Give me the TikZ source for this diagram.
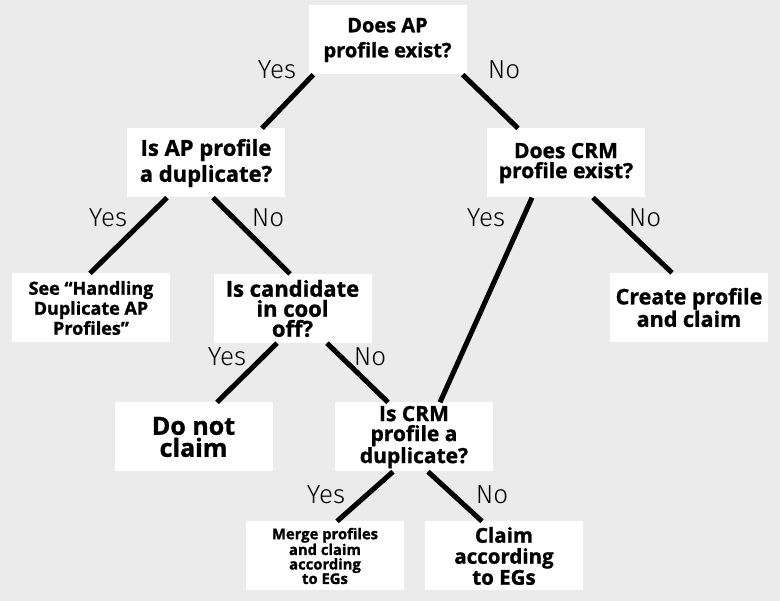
\documentclass[tikz,border=0pt]{standalone}
\usepackage{fontspec}
\setmainfont{Open Sans}[BoldFeatures={FakeBold=1.2}]
\newfontfamily\lightfont{Fira Sans Light}
\definecolor{bggray}{RGB}{235,235,235}
\newcommand{\fsz}[2]{\fontsize{#1}{#2}\selectfont}
\begin{document}
\begin{tikzpicture}[x=1pt,y=-1pt,line join=round,
  box/.style={fill=white,minimum width=158pt,minimum height=69pt,align=center,inner sep=0pt,font=\bfseries},
  branch/.style={line width=5pt},
  answer/.style={font=\lightfont\fsz{26}{26}}]
\useasboundingbox[fill=bggray] (0,0) rectangle (780,601);
% question and outcome boxes
\node[box,font=\bfseries\fsz{20}{25}] (apexist) at (387.5,40) {Does AP\\profile exist?};
\node[box,font=\bfseries\fsz{22}{26}] (apdup) at (206,163) {Is AP profile\\a duplicate?};
\node[box,font=\bfseries\fsz{21}{20}] (crmexist) at (566,163) {Does CRM\\profile exist?};
\node[box,font=\bfseries\fsz{21.5}{19.5}] (create) at (689,307.5) {Create profile\\and claim};
\node[box,font=\bfseries\fsz{18}{20}] (handling) at (91,308) {See “Handling\\Duplicate AP\\Profiles”};
\node[box,font=\bfseries\fsz{22}{20}] (cooloff) at (292.5,308.5) {Is candidate\\in cool\\off?};
\node[box,font=\bfseries\fsz{25}{22}] (donot) at (193.5,437) {Do not\\claim};
\node[box,font=\bfseries\fsz{21}{20}] (crmdup) at (414,437) {Is CRM\\profile a\\duplicate?};
\node[box,font=\bfseries\fsz{14.8}{14.5}] (merge) at (325,556) {Merge profiles\\and claim\\according\\to EGs};
\node[box,font=\bfseries\fsz{20.5}{21}] (claimeg) at (504,556) {Claim\\according\\to EGs};
% branches
\draw[branch] ([xshift=5pt]apexist.south west) -- ([xshift=56pt]apdup.north);
\draw[branch] ([xshift=-4pt]apexist.south east) -- ([xshift=-48pt]crmexist.north);
\draw[branch] ([xshift=-39pt]apdup.south) -- ([xshift=-1pt]handling.north);
\draw[branch] ([xshift=7pt]apdup.south) -- ([xshift=-2.5pt]cooloff.north);
\draw[branch] ([xshift=-34pt]crmexist.south) -- ([xshift=26pt]crmdup.north);
\draw[branch] ([xshift=27pt]crmexist.south) -- ([xshift=-17pt]create.north);
\draw[branch] ([xshift=-15.5pt]cooloff.south) -- ([xshift=23.5pt]donot.north);
\draw[branch] ([xshift=34.5pt]cooloff.south) -- ([xshift=-26pt]crmdup.north);
\draw[branch] ([xshift=-21pt]crmdup.south) -- ([xshift=12pt]merge.north);
\draw[branch] ([xshift=14pt]crmdup.south) -- ([xshift=-22pt]claimeg.north);
% answers
\node[answer] (yes1) at (277,70) {Yes};
\node[answer] (no1) at (504,70) {No};
\node[answer] (yes2) at (108,218) {Yes};
\node[answer] (no2) at (268,218) {No};
\node[answer] (yes3) at (486,218) {Yes};
\node[answer] (no3) at (645,218) {No};
\node[answer] (yes4) at (227,357) {Yes};
\node[answer] (no4) at (370,357) {No};
\node[answer] (yes5) at (326,495) {Yes};
\node[answer] (no5) at (492,495) {No};
\end{tikzpicture}
\end{document}
